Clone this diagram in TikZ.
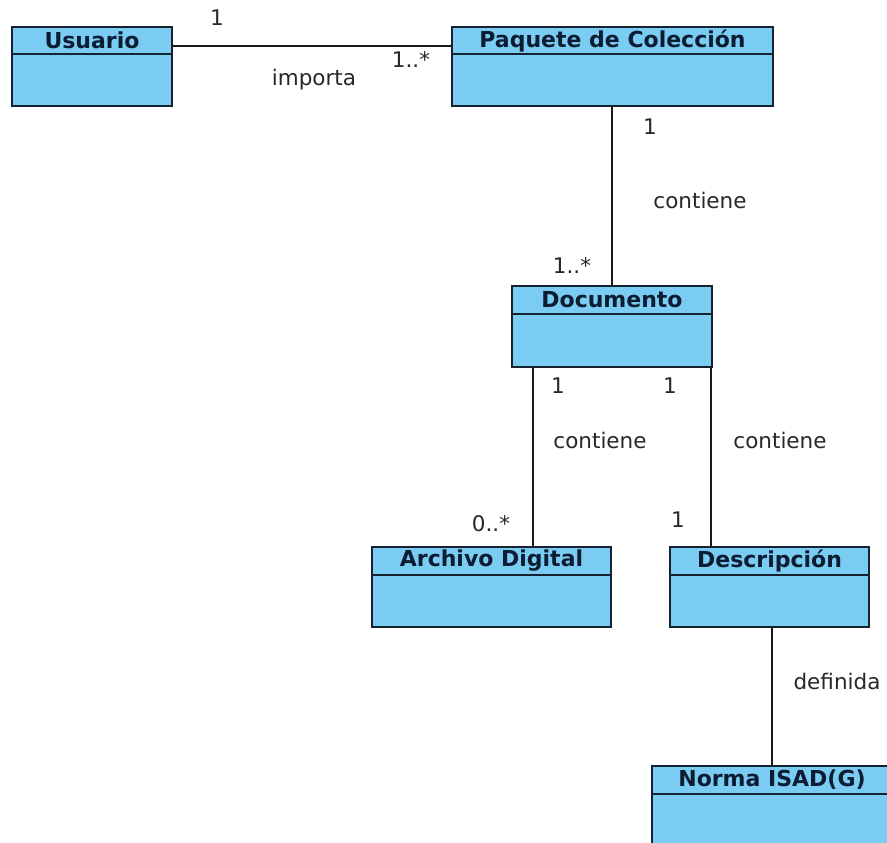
\documentclass[tikz,border=0pt]{standalone}
\usepackage{fontspec}
\setmainfont{DejaVu Sans}
\usetikzlibrary{calc}
\definecolor{classfill}{RGB}{122,204,242}
\definecolor{classline}{RGB}{22,34,48}
\definecolor{classtext}{RGB}{12,28,50}
\definecolor{assoc}{RGB}{25,25,25}
\definecolor{labeltext}{RGB}{40,40,40}
\tikzset{
  umlclass/.style={draw=classline, fill=classfill, line width=1.8pt,
    anchor=north west, inner sep=0pt, outer sep=0pt},
  classtitle/.style={font=\fontsize{22}{24}\selectfont\bfseries, text=classtext, inner sep=0pt},
  assocline/.style={draw=assoc, line width=1.8pt},
  lbl/.style={font=\fontsize{21.5}{24}\selectfont, text=labeltext, inner sep=0pt}
}
% one class box: name, left, top, width, height, header height, title
\newcommand{\umlbox}[7]{%
  \node[umlclass, minimum width=#4pt, minimum height=#5pt] (#1) at (#2,#3) {};
  \draw[draw=classline, line width=1.8pt] ([yshift=-#6pt]#1.north west) -- ([yshift=-#6pt]#1.north east);
  \node[classtitle] (#1-title) at ([yshift=-#6pt/2]#1.north) {#7};
}
\begin{document}
\begin{tikzpicture}[x=1pt, y=-1pt]
\clip (0,0) rectangle (887,843);
\fill[white] (0,0) rectangle (887,843);

\umlbox{usuario}{12}{27}{160}{79}{27}{Usuario}
\umlbox{paquete}{452}{27}{321}{79}{27}{Paquete de Colección}
\umlbox{documento}{512}{286}{200}{81}{28}{Documento}
\umlbox{archivo}{372}{547}{239}{80}{28}{Archivo Digital}
\umlbox{descripcion}{670}{547}{199}{80}{28}{Descripción}
\umlbox{norma}{652}{766}{240}{90}{28}{Norma ISAD(G)}

% associations
\draw[assocline] ([yshift=-19pt]usuario.north east) -- ([yshift=-19pt]paquete.north west);
\draw[assocline] ([xshift=-0.5pt]paquete.south) -- ([xshift=-0.5pt]paquete.south |- documento.north);
\draw[assocline] ([xshift=21pt]documento.south west) -- ([xshift=21pt]documento.south west |- archivo.north);
\draw[assocline] ([xshift=-1pt]documento.south east) -- ([xshift=-1pt]documento.south east |- descripcion.north);
\draw[assocline] ([xshift=2.5pt]descripcion.south) -- ([xshift=2.5pt]descripcion.south |- norma.north);

% multiplicities and role names
\node[lbl] (m1) at (217,18) {1};
\node[lbl] (r1) at (314,80) {importa};
\node[lbl] (m2) at (411,60) {1..*};
\node[lbl] (m3) at (650,127) {1};
\node[lbl] (r2) at (700,200) {contiene};
\node[lbl] (m4) at (572,266) {1..*};
\node[lbl] (m5) at (558,386) {1};
\node[lbl] (r3) at (600,440) {contiene};
\node[lbl] (m6) at (491,524) {0..*};
\node[lbl] (m7) at (670,386) {1};
\node[lbl] (r4) at (780,440) {contiene};
\node[lbl] (m8) at (678,520) {1};
\node[lbl] (r5) at (837,681) {definida};
\end{tikzpicture}
\end{document}
